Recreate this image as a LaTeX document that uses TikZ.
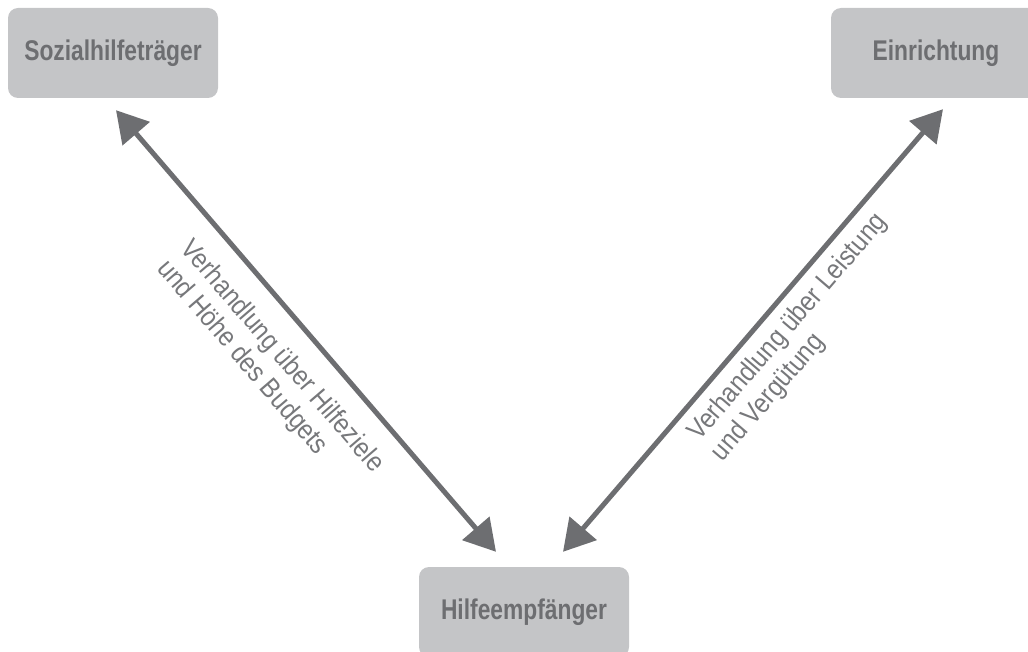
\documentclass[tikz,border=0pt]{standalone}
\usepackage{fontspec}
\setmainfont{Liberation Sans}
\newfontfamily\boxfont{Liberation Sans}[FakeStretch=0.8]
\newfontfamily\labfont{Liberation Sans}[FakeStretch=0.88]
\usetikzlibrary{arrows.meta,calc}
\definecolor{boxgray}{HTML}{C4C5C7}
\definecolor{txtgray}{HTML}{6D6E71}
\definecolor{labgray}{HTML}{77787B}
\definecolor{arrgray}{HTML}{6D6E71}
\tikzset{
  box/.style={rounded corners=10pt, fill=boxgray, minimum width=210pt, minimum height=90pt,
    inner sep=0pt, text=txtgray, font=\boxfont\bfseries\fontsize{28.5}{31}\selectfont},
  lab/.style={inner sep=0pt, text=labgray, align=left,
    font=\labfont\fontsize{27.5}{31}\selectfont},
  biarrow/.style={draw=arrgray, line width=5pt,
    {Triangle[length=31pt,width=35pt]}-{Triangle[length=31pt,width=35pt]}}
}
\begin{document}
\begin{tikzpicture}[x=1pt,y=-1pt]
\useasboundingbox (0,0) rectangle (1028,652);
\begin{scope}
\clip (0,0) rectangle (1028,652);
\node[box] (soz) at (113,53) {Sozialhilfeträger};
\node[box] (ein) at (936,53) {Einrichtung};
\node[box] (hil) at (524,612) {Hilfeempfänger};
\end{scope}
\draw[biarrow] ($(soz.south)+(3,12)$) -- ($(hil.north)+(-28,-15)$);
\draw[biarrow] ($(hil.north)+(39,-15)$) -- ($(ein.south)+(7,11)$);
\node[lab, rotate=-49.3, anchor=north west] (l1) at (195,236) {Verhandlung über Hilfeziele\\und Höhe des Budgets};
\node[lab, rotate=49.4, anchor=north west] (l2) at (684,429) {Verhandlung über Leistung\\und Vergütung};
\end{tikzpicture}
\end{document}
